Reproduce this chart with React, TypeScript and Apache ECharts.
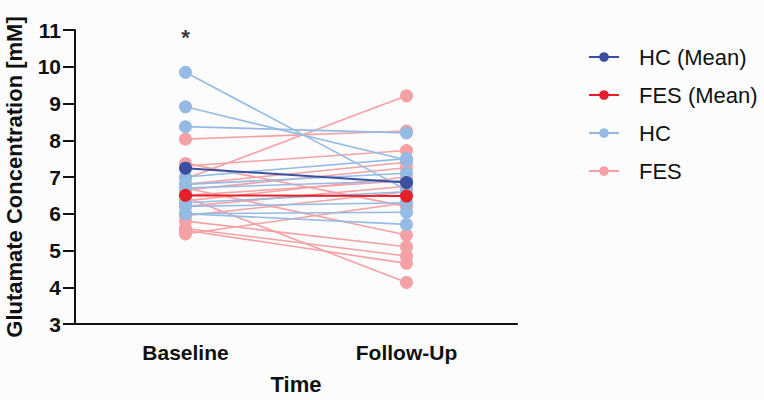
import React, { useEffect, useRef } from "react";
import * as echarts from "echarts";

const categories = ["Baseline", "Follow-Up"];
const yTicks = [3, 11];
const hcBaseline = [9.85, 8.91, 8.37, 7.0, 6.8, 6.7, 6.3, 6.2, 6.0, 6.0];
const hcFollowUp = [6.65, 7.46, 8.2, 7.5, 7.1, 6.9, 6.6, 6.3, 6.04, 5.71];
const fesBaseline = [8.03, 7.37, 7.3, 6.95, 6.8, 6.7, 6.65, 6.5, 6.45, 6.35, 6.2, 5.95, 5.8, 5.6, 5.55, 5.45];
const fesFollowUp = [8.25, 6.2, 7.72, 9.21, 7.4, 5.42, 7.25, 6.9, 4.13, 7.0, 6.75, 6.6, 5.1, 4.85, 4.65, 6.3];
const hcMean = [7.24, 6.85];
const fesMean = [6.5, 6.48];
const significance = [["Baseline", 10.8]];
const legendNames = ["HC (Mean)", "FES (Mean)", "HC", "FES"];

const FONT = "'Liberation Sans', Arial, sans-serif";
const C_HC_MEAN = "#3a4fa0";
const C_FES_MEAN = "#e5202a";
const C_HC = "#95bbe4";
const C_FES = "#f4a1a5";

export default function App() {
  const ref = useRef<HTMLDivElement>(null);
  useEffect(() => {
    if (!ref.current) return;
    const chart = echarts.init(ref.current, null, { renderer: "svg" });

    const indiv = (name: string, color: string, b: number[], f: number[]) =>
      b.map((v, i) => ({
        name,
        type: "line",
        data: [v, f[i]],
        symbol: "circle",
        symbolSize: 13,
        lineStyle: { color, width: 1.6 },
        itemStyle: { color },
        z: 2,
      }));

    const series: any[] = [
      ...indiv("FES", C_FES, fesBaseline, fesFollowUp),
      ...indiv("HC", C_HC, hcBaseline, hcFollowUp),
      {
        name: "FES (Mean)",
        type: "line",
        data: fesMean,
        symbol: "circle",
        symbolSize: 13,
        lineStyle: { color: C_FES_MEAN, width: 2 },
        itemStyle: { color: C_FES_MEAN },
        z: 3,
      },
      {
        name: "HC (Mean)",
        type: "line",
        data: hcMean,
        symbol: "circle",
        symbolSize: 13,
        lineStyle: { color: C_HC_MEAN, width: 2 },
        itemStyle: { color: C_HC_MEAN },
        z: 4,
      },
      {
        name: "sig",
        type: "scatter",
        data: significance,
        symbolSize: 0,
        label: {
          show: true,
          position: "inside",
          formatter: "*",
          color: "#000",
          fontSize: 22,
          fontWeight: "bold",
          fontFamily: FONT,
        },
        z: 5,
      },
    ];

    chart.setOption({
      animation: false,
      backgroundColor: "#fcfcfc",
      textStyle: { fontFamily: FONT },
      grid: {
        left: 75,
        right: 247,
        top: 30,
        bottom: 76,
        containLabel: false,
        outerBoundsMode: "none",
      },
      legend: {
        data: legendNames,
        orient: "vertical",
        left: 583,
        top: 41,
        itemWidth: 30,
        itemHeight: 12,
        itemGap: 16,
        selectedMode: false,
        textStyle: {
          fontSize: 22,
          lineHeight: 22,
          color: "#111",
          fontFamily: FONT,
          padding: [0, 0, 0, 15],
        },
      },
      xAxis: {
        type: "category",
        data: categories,
        name: "Time",
        nameLocation: "middle",
        nameGap: 49,
        nameTextStyle: { fontSize: 22, fontWeight: "bold", color: "#111", fontFamily: FONT },
        axisLine: { lineStyle: { color: "#111", width: 2 } },
        axisTick: { alignWithLabel: true, length: 12, lineStyle: { color: "#111", width: 2 } },
        axisLabel: { fontSize: 21, fontWeight: "bold", color: "#111", margin: 18, fontFamily: FONT },
        splitLine: { show: false },
      },
      yAxis: {
        type: "value",
        min: yTicks[0],
        max: yTicks[1],
        interval: 1,
        name: "Glutamate Concentration [mM]",
        nameLocation: "middle",
        nameGap: 50,
        nameTextStyle: { fontSize: 22, fontWeight: "bold", color: "#111", fontFamily: FONT },
        axisLine: { show: true, lineStyle: { color: "#111", width: 2 } },
        axisTick: { show: true, length: 12, lineStyle: { color: "#111", width: 2 } },
        axisLabel: { fontSize: 21, fontWeight: "bold", color: "#111", margin: 14, fontFamily: FONT },
        splitLine: { show: false },
      },
      series,
    });
    return () => chart.dispose();
  }, []);
  return (
    <div
      ref={ref}
      style={{ position: "fixed", left: 0, top: 0, width: 764, height: 400 }}
    />
  );
}
